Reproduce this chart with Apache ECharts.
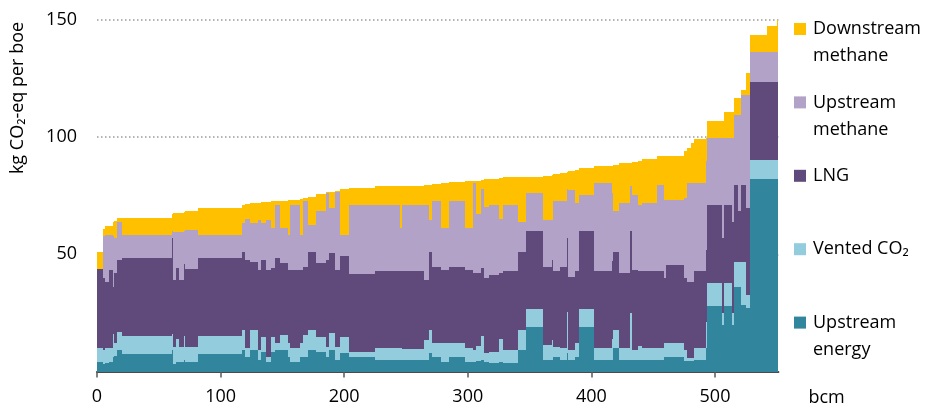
<!DOCTYPE html>
<html><head><meta charset="utf-8">
<script src="https://cdn.jsdelivr.net/npm/echarts@6/dist/echarts.min.js"></script>
<style>html,body{margin:0;padding:0;background:#fff}#c{width:929px;height:407px}</style>
</head><body><div id="c"></div>
<script>
// cumulative production (bcm) at the right edge of each field group
const segmentEnd = [5.1,6.7,9.5,12.7,14,15.9,20,60.4,61.5,64,66,70.4,71.5,82,117,119.5,123.5,130.3,133,137,141,143.7,147.8,154.5,155.9,164,166.7,170.7,177.5,185.3,187.4,192.8,196.9,203.6,225.2,245.4,246.8,264.3,268.4,271,278.3,284.5,298,304.5,307,311,313,317.4,325.5,328.2,340.4,347.1,360.6,368.1,369.2,374.6,380,381.3,386.7,390.2,402.1,416.4,417.8,422.3,431.2,432.6,438,440.7,452.8,458.7,460.5,474.9,477.6,480.4,483,492.5,493.8,505.9,507.3,514,515.4,518.6,521.3,524.8,528.3,542.3,550.4,551.3];
// kg CO2-eq per boe
const upstreamEnergy = [4.2,3,3.5,4.2,6,6.5,9.2,7.5,9,3,4,4.2,5,4.2,7.5,9.2,6.3,9.2,4.9,8.5,4.2,8.5,9.2,9.2,6.3,4.2,6.3,6.3,9.2,8.5,6.3,9.2,4.9,7.8,6.3,4.9,4.9,4.9,4.9,7.8,6.3,4.2,6.3,4.2,4.2,4.5,5,4,3.5,4,3.5,9.2,19.1,4.9,4.9,6.3,4.9,8,4.9,6.3,19.1,4.9,5,9.9,4.9,5,4.9,5,4.9,4.9,6.3,6.3,4.5,4.5,4.5,4.9,10,28,20,28,20,36.2,36.2,28.4,27,82.3,82.3,82.3];
const ventedCO2 = [5.8,6,6.5,5.8,10,5.5,7.8,7.8,7,7.6,10,6.4,10,6.4,7.8,8.5,3.6,8.5,4.3,6.4,2.1,6.4,2.8,6.4,5.7,5.7,5.7,9.3,8.5,6.4,4.3,7.1,5.7,7.1,2.2,5,5,4.6,8.6,9.9,5.7,7.8,5.7,5.7,4.8,6.5,10,4,5,10,5.7,8.5,7.6,6.4,8.6,4.3,5,17.6,4.3,5.7,7.6,5,9,7.8,5,20,4.3,6,5,5,5.7,5.7,4.5,1.1,1.1,5,11,9.7,5,9.7,5,10.7,10.7,18.5,5.7,8.1,8.1,8.1];
const lng = [33.8,31,28.4,33.5,20,30,30.6,33.1,41,28.4,30,28.4,31,33.1,33.1,33.5,37.7,29,34.2,32.7,37.1,29.2,36.4,30.6,31.4,33.5,31.4,29.2,33.5,31.3,37,34.2,32.8,34.2,33,33.1,33.1,33.5,25.6,33.5,32.8,31.4,32.8,33.5,33,31,29,32,32.7,28,33.5,33.5,33.3,33.5,34.1,32.1,34.9,31.4,31.3,30.7,33.3,32.8,33,33.5,32.1,35,34.2,31.7,32.8,32.8,28,33.5,30.8,32.8,32.8,32.8,31,33.5,32,33.5,39,32.8,21.4,32.8,37,33.2,33.2,33.2];
const upstreamMethane = [0,18,19.9,14.8,22,15,16.4,9.9,3,20.6,15.6,20.6,14,16.8,9.9,12.1,17.4,16.6,21.3,15.7,21.3,17.1,22.8,15,14.9,27.8,14.9,27.8,11.4,22.1,28.6,19.2,33.1,9.2,29.7,28.2,18.2,28.2,32.1,13.5,27.8,17.8,27.8,17.8,38.5,25,34,30,30,23,28.5,12.8,16.2,19.9,17.1,29.9,27.8,21,37.1,29.3,15.4,37.7,29,17.1,29.9,19,32,28.3,29.2,37,33.3,27.8,34.2,42,42,37.7,38,28.5,42.7,28.5,35.7,29.9,41.3,38.5,48.3,12.6,12.6,12.6];
const downstreamMethane = [7.4,3,3.7,3.9,6,7.2,1.5,7.4,7,7.9,8,8.2,8,8,11.4,7.8,6.5,8.6,7.2,8.9,7.7,11.4,1.4,11.6,14.7,2.1,15.2,1.4,11.9,7.6,0.3,7.1,0.4,19.6,7.1,7.8,17.8,8.1,8.3,14.9,7.6,19.4,8.3,19.9,0.8,14.5,3.8,12,11.1,17.5,11.6,19,7,18.9,19.3,11.7,12.2,7,7.8,14,11.4,7.1,11.8,19.9,16.9,10,14.1,19,18.8,12.1,18.5,18.6,20.2,15,17.1,19,9.6,7.4,7.4,11.1,11.1,7.2,7.2,2.1,9.4,7.3,11.2,13.8];

const seriesNames = ['Upstream energy','Vented CO\u2082','LNG','Upstream methane','Downstream methane'];
const seriesValues = [upstreamEnergy, ventedCO2, lng, upstreamMethane, downstreamMethane];
const seriesColors = ['#31859C','#93CDDD','#604A7B','#B3A2C7','#FFC000'];
// blank first line keeps the swatch level with the first text line
const legendLabels = {
  'Downstream methane':' \nDownstream\nmethane',
  'Upstream methane':' \nUpstream\nmethane',
  'LNG':' \nLNG\n ',
  'Vented CO\u2082':' \nVented CO\u2082\n ',
  'Upstream energy':' \nUpstream\nenergy'
};
const legendOrder = ['Downstream methane','Upstream methane','LNG','Vented CO\u2082','Upstream energy'];
const xTicks = [0,100,200,300,400,500];
const yTicks = [50,100,150];
const FONT = '"Open Sans", "Noto Sans", sans-serif';

// stack the components
const base = segmentEnd.map(() => 0);
const series = seriesNames.map((name, k) => {
  const vals = seriesValues[k];
  const data = segmentEnd.map((end, i) => {
    const start = i === 0 ? 0 : segmentEnd[i-1];
    const lo = base[i];
    const hi = lo + vals[i];
    base[i] = hi;
    return [start, end, lo, hi];
  });
  const color = seriesColors[k];
  return {
    type: 'custom', name: name, data: data,
    itemStyle: {color: color},
    encode: {x: [0,1], y: [2,3]},
    renderItem: function (params, api) {
      const p0 = api.coord([api.value(0), api.value(3)]);
      const p1 = api.coord([api.value(1), api.value(2)]);
      const x0 = Math.round(p0[0]), x1 = Math.round(p1[0]);
      const y0 = Math.round(p0[1]), y1 = Math.round(p1[1]);
      return {type: 'rect', shape: {x: x0, y: y0, width: Math.max(x1 - x0, 1), height: y1 - y0},
        style: {fill: color}};
    }
  };
});

const chart = echarts.init(document.getElementById('c'), null, {renderer: 'canvas'});
chart.setOption({
  animation: false,
  backgroundColor: '#fff',
  grid: {left: 97, right: 150.6, top: 20, bottom: 35.5},
  xAxis: {
    type: 'value', min: 0, max: 551.3, interval: 100,
    name: 'bcm', nameLocation: 'end', nameGap: 30,
    nameTextStyle: {fontFamily: FONT, fontSize: 18, color: '#000', verticalAlign: 'top', padding: [17,0,0,0]},
    axisLine: {show: true, lineStyle: {color: '#4a4a4a', width: 2}},
    axisTick: {show: true, length: 6, lineStyle: {color: '#595959', width: 1.5}, customValues: xTicks},
    axisLabel: {fontFamily: FONT, fontSize: 18, color: '#000', margin: 16, customValues: xTicks},
    splitLine: {show: false}
  },
  yAxis: {
    type: 'value', min: 0, max: 150, interval: 50,
    axisLine: {show: false}, axisTick: {show: false},
    axisLabel: {fontFamily: FONT, fontSize: 18, color: '#000', margin: 20, customValues: yTicks},
    splitLine: {show: true, lineStyle: {color: '#9a9a9a', width: 1.5, type: [1.5, 2.5]}}
  },
  legend: {
    orient: 'vertical', left: 794, top: -11.5, padding: 0,
    itemWidth: 12, itemHeight: 12, itemGap: -7.6, icon: 'rect',
    selectedMode: false,
    textStyle: {fontFamily: FONT, fontSize: 18, color: '#000', lineHeight: 27, padding: [0,0,0,2]},
    formatter: n => legendLabels[n],
    data: legendOrder
  },
  graphic: [{
    type: 'text', x: 17.5, y: 98, rotation: Math.PI/2,
    style: {text: 'kg CO\u2082-eq per boe', fill: '#000', font: '18px ' + FONT, align: 'center', verticalAlign: 'middle'}
  }],
  series: series
});
</script></body></html>
